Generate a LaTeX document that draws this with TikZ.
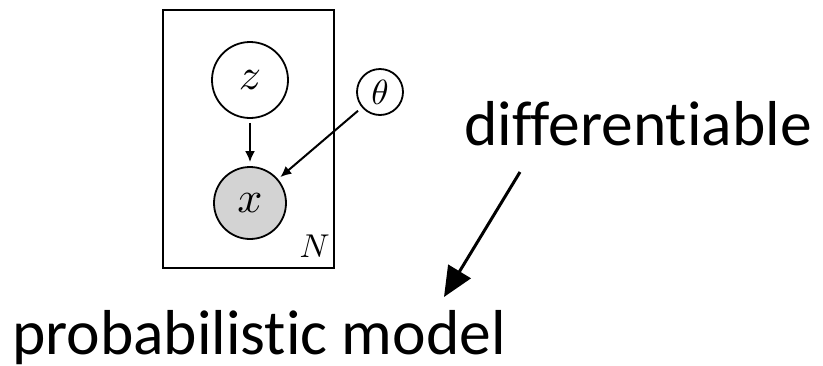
\documentclass[tikz,border=0pt]{standalone}
\usepackage{fontspec}
\setmainfont{Carlito}[Ligatures={NoCommon,NoRequired,NoContextual}]
\usetikzlibrary{arrows.meta}
\definecolor{obsgray}{HTML}{D3D3D3}
\begin{document}
\begin{tikzpicture}[x=1pt,y=-1pt,
  var/.style={circle,draw,line width=1.8pt,inner sep=0pt},
  edge/.style={line width=2pt,-{Latex[length=11pt,width=10pt]}},
  bigedge/.style={line width=3pt,-{Triangle[length=30pt,width=26pt]}},
  label/.style={font=\fontsize{63.5}{63.5}\selectfont,inner sep=0pt}]
\useasboundingbox (0,0) rectangle (823,365);
\node[draw,line width=1.8pt,minimum width=171pt,minimum height=258pt,inner sep=0pt] (plate) at (248.5,139) {};
\node[var,minimum size=76pt] (z) at (250,80) {\scalebox{4.4}{$z$}};
\node[var,minimum size=72pt,fill=obsgray] (x) at (250,203) {\scalebox{4.4}{$x$}};
\node[var,minimum size=46pt] (t) at (380,92) {\scalebox{3.5}{$\theta$}};
\node[inner sep=0pt,anchor=base east] (N) at (330,257) {\scalebox{3.3}{$N$}};
\draw[edge,shorten <=4pt,shorten >=4pt] (z) -- (x);
\draw[edge,shorten <=5pt,shorten >=3pt] (t) -- (x);
\node[label,anchor=base west] (d) at (464,145) {differentiable};
\node[label,anchor=base west] (p) at (12,354) {probabilistic model};
\coordinate (a1) at (520,172);
\coordinate (a2) at (444,297);
\draw[bigedge] (a1) -- (a2);
\end{tikzpicture}
\end{document}
